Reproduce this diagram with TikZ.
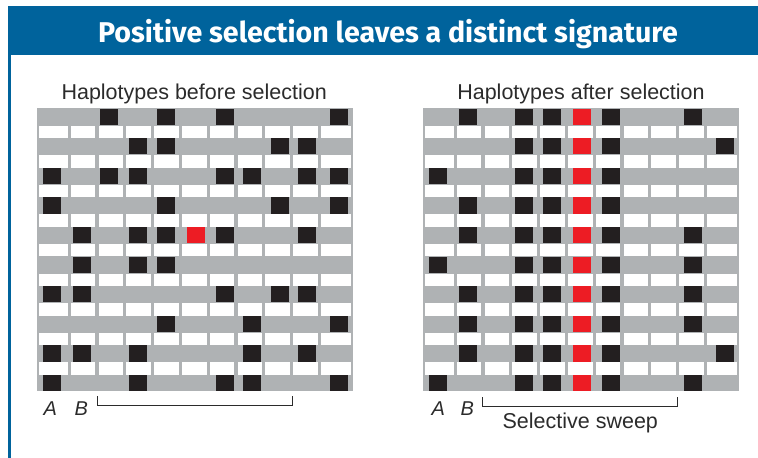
\documentclass[tikz,border=0pt]{standalone}
\usepackage{fontspec}
\setmainfont{Liberation Sans}
\newfontfamily\titlefont{Fira Sans}
\usepackage{tikz}
\usetikzlibrary{calc}
\definecolor{headblue}{HTML}{00639C}
\definecolor{bandgray}{HTML}{AFB2B4}
\definecolor{snpink}{HTML}{231F20}
\definecolor{snpred}{HTML}{ED1C24}
\definecolor{inkgray}{HTML}{2B2B2B}
\tikzset{
    band/.style={fill=bandgray},
    cellbox/.style={fill=white},
    snp/.style={fill=snpink},
    selsnp/.style={fill=snpred},
    bracket/.style={line width=1pt, draw=inkgray},
    headtitle/.style={font=\titlefont\bfseries\fontsize{28.6}{32}\selectfont, text=white, anchor=base},
    paneltitle/.style={font=\fontsize{21.5}{24}\selectfont, text=inkgray, anchor=base},
    locus/.style={font=\fontsize{20}{22}\selectfont\itshape, text=inkgray, anchor=base}
}
% one panel of haplotypes: #1 = list of row/{sites}
\newcommand{\haplogrid}[1]{%
  % grey haplotype bands
  \fill[band] (37.3,108.3) rectangle (353,391);
  % white cells between the bands
  \foreach \r in {0,...,8}{
    \foreach \k in {0,...,10}{
      \pgfmathsetmacro\xa{\k==0 ? 39 : 69.3+27.77*(\k-1)+1.6}
      \pgfmathsetmacro\xb{\k==10 ? 351 : 69.3+27.77*\k-1.6}
      \pgfmathsetmacro\ty{108.3+29.6*\r}
      \fill[cellbox] (\xa,\ty+17.2) rectangle (\xb,\ty+29.6);
    }
  }
  % variable sites
  \foreach \r/\sites in {#1}{
    \foreach \s in \sites{
      \pgfmathsetmacro\cx{{52,82,108.8,137.5,165.5,195.5,224.5,251.8,279.7,306.5,338.5}[\s-1]}
      \pgfmathsetmacro\ty{108.3+29.6*(\r-1)}
      \fill[snp] (\cx-9,\ty+0.3) rectangle (\cx+9,\ty+16.5);
    }
  }
}

\begin{document}
\begin{tikzpicture}[x=1pt, y=-1pt]
  \useasboundingbox (0,0) rectangle (758,458);

  % header bar and side rule
  \fill[headblue] (8,6) rectangle (758,55);
  \fill[headblue] (8,55) rectangle (11,458);
  \node[headtitle] (title) at (388,42.7) {Positive selection leaves a distinct signature};

  % before selection
  \haplogrid{1/{3,5,7,11}, 2/{4,5,9,10}, 3/{1,3,4,7,8,10,11}, 4/{1,5,9,11},
             5/{2,4,5,7,10}, 6/{2,4,5}, 7/{1,2,7,9,10}, 8/{5,8,11},
             9/{1,2,4,8,10}, 10/{1,4,7,8,11}}
  \fill[selsnp] (186.5,226.7) rectangle (204.5,242.9);

  % after selection
  \begin{scope}[xshift=386pt]
    \haplogrid{1/{2,4,5,7,10}, 2/{4,5,7,11}, 3/{1,4,5,7}, 4/{2,4,5,7},
               5/{2,4,5,7,10}, 6/{1,4,5,7,10}, 7/{2,4,5,7,10}, 8/{2,4,5,7,10},
               9/{2,4,5,7,11}, 10/{1,4,5,7,10}}
    \foreach \r in {0,...,9}
      \fill[selsnp] (186.5,108.6+29.6*\r) rectangle (204.5,124.8+29.6*\r);
  \end{scope}

  % panel labels
  \node[paneltitle] (before) at (194.2,99.3) {Haplotypes before selection};
  \node[paneltitle] (after) at (581,99.3) {Haplotypes after selection};

  % loci A and B
  \node[locus] (locA) at (50.3,415) {A};
  \node[locus] (locB) at (81.2,415) {B};
  \node[locus] (locAs) at (438.3,415) {A};
  \node[locus] (locBs) at (467.3,415) {B};

  % brackets under the grids
  \coordinate (brL) at (97.7,396);
  \coordinate (brR) at (292.5,396);
  \coordinate (swL) at (482.7,397);
  \coordinate (swR) at (677.3,397);
  \draw[bracket] (brL) -- ++(0,9) -| (brR);
  \draw[bracket] (swL) -- ++(0,9) -| (swR);
  \node[paneltitle] (sweep) at (580.3,428.3) {Selective sweep};
\end{tikzpicture}
\end{document}
